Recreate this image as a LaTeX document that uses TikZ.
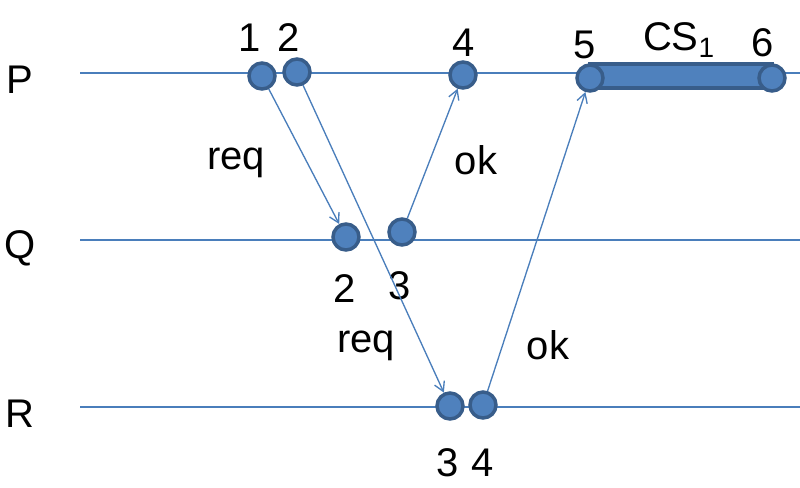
\documentclass[tikz,border=0pt]{standalone}
\usepackage{fontspec}
\setmainfont{Liberation Sans}
\usetikzlibrary{arrows.meta}
\definecolor{evBlue}{RGB}{79,129,189}
\definecolor{evEdge}{RGB}{56,93,138}
\definecolor{msgBlue}{RGB}{74,126,187}

\begin{document}
\begin{tikzpicture}[x=0.75pt,y=-0.75pt,
    event/.style={circle,fill=evBlue,draw=evEdge,line width=2.6pt,
      minimum size=19.5pt,inner sep=0pt},
    msg/.style={msgBlue,line width=1pt,-{Straight Barb[length=7pt,width=8pt]}},
    lbl/.style={font=\fontsize{30}{32}\selectfont,inner sep=0pt}]
  \useasboundingbox (0,0) rectangle (800,487);
  \foreach \y in {73,240,407} \draw[msgBlue,line width=1pt] (80,\y) -- (800,\y);
  \node[lbl] (pname) at (20,80) {P};
  \node[lbl] (qname) at (20,248) {Q};
  \node[lbl] (rname) at (20,414) {R};
  % critical section bar
  \draw[fill=evBlue,draw=evEdge,line width=2.6pt] (590,64) rectangle (772,88);
  % events
  \node[event] (p1) at (262,76) {};
  \node[event] (p2) at (297,72) {};
  \node[event] (p4) at (463,75) {};
  \node[event] (p5) at (590,78) {};
  \node[event] (p6) at (772,78) {};
  \node[event] (q2) at (346,237) {};
  \node[event] (q3) at (402,232) {};
  \node[event] (r3) at (450,406) {};
  \node[event] (r4) at (483,405) {};
  % clocks
  \node[lbl] (tp1) at (250,38) {1};
  \node[lbl] (tp2) at (289,38) {2};
  \node[lbl] (tp4) at (464,43) {4};
  \node[lbl] (tp5) at (585,45) {5};
  \node[lbl] (tcs) at (679,40) {CS\textsubscript{1}};
  \node[lbl] (tp6) at (763,43) {6};
  \node[lbl] (tq2) at (345,289) {2};
  \node[lbl] (tq3) at (400,286) {3};
  \node[lbl] (tr3) at (448,463) {3};
  \node[lbl] (tr4) at (483,463) {4};
  % messages
  \draw[msg] (p1) -- (q2);
  \draw[msg] (p2) -- (r3);
  \draw[msg] (q3) -- (p4);
  \draw[msg] (r4) -- (p5);
  \node[lbl] (req1) at (236,163) {req};
  \node[lbl] (ok1) at (476,160) {ok};
  \node[lbl] (req2) at (366,346) {req};
  \node[lbl] (ok2) at (548,345) {ok};
\end{tikzpicture}
\end{document}
